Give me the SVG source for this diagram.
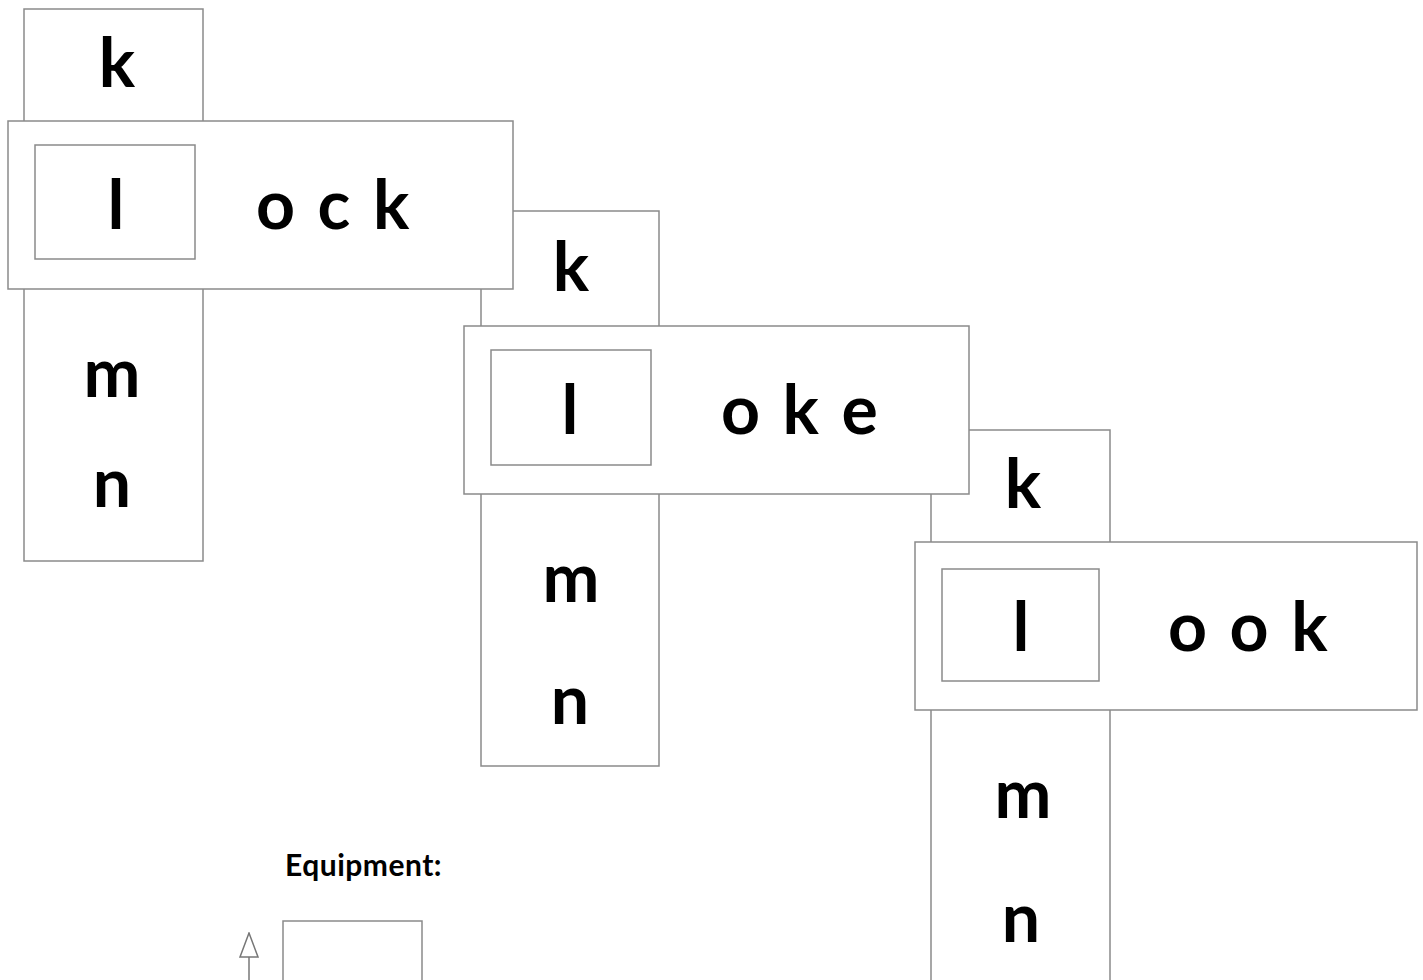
<svg xmlns="http://www.w3.org/2000/svg" width="1423" height="980" viewBox="0 0 1423 980">
<style>
.box{fill:#fff;stroke:#8a8a8a;stroke-width:1.5}
.big{font-family:Lato,"Liberation Sans",sans-serif;font-weight:bold;font-size:68px;fill:#000;text-anchor:middle}
.word{font-family:Lato,"Liberation Sans",sans-serif;font-weight:bold;font-size:68px;fill:#000;letter-spacing:3px}
.lbl{font-family:Lato,"Liberation Sans",sans-serif;font-weight:bold;font-size:30px;fill:#000;letter-spacing:0.5px}
.conn{fill:none;stroke:#777;stroke-width:1.5}
</style>
<defs>
<marker id="hollow" viewBox="0 0 26 20" refX="25" refY="10" markerWidth="26" markerHeight="20" markerUnits="userSpaceOnUse" orient="auto">
<path d="M1,1 L25,10 L1,19 Z" fill="#fff" stroke="#777" stroke-width="1.5"/>
</marker>
</defs>
<g id="col1">
<rect class="box" x="24" y="9" width="179" height="552"/>
<text class="big" x="117" y="87">k</text>
<text class="big" x="112" y="397">m</text>
<text class="big" x="112" y="507">n</text>
</g>
<g id="col2">
<rect class="box" x="481" y="211" width="178" height="555"/>
<text class="big" x="571" y="291">k</text>
<text class="big" x="571" y="602">m</text>
<text class="big" x="570" y="724">n</text>
</g>
<g id="col3">
<rect class="box" x="931" y="430" width="179" height="560"/>
<text class="big" x="1023" y="508">k</text>
<text class="big" x="1023" y="818">m</text>
<text class="big" x="1021" y="942">n</text>
</g>
<g id="row1">
<rect class="box" x="8" y="121" width="505" height="168"/>
<rect class="box" x="35" y="145" width="160" height="114"/>
<text class="big" x="116" y="229">l</text>
<text class="word" x="256" y="229" xml:space="preserve">o c k</text>
</g>
<g id="row2">
<rect class="box" x="464" y="326" width="505" height="168"/>
<rect class="box" x="491" y="350" width="160" height="115"/>
<text class="big" x="570" y="434">l</text>
<text class="word" x="721" y="434" xml:space="preserve">o k e</text>
</g>
<g id="row3">
<rect class="box" x="915" y="542" width="502" height="168"/>
<rect class="box" x="942" y="569" width="157" height="112"/>
<text class="big" x="1021" y="651">l</text>
<text class="word" x="1168" y="651" xml:space="preserve">o o k</text>
</g>
<g id="equipment">
<text class="lbl" x="285" y="876">Equipment:</text>
<rect class="box" x="283" y="921" width="139" height="80"/>
</g>
<g id="connectors">
<line class="conn" x1="249" y1="990" x2="249" y2="933" marker-end="url(#hollow)"/>
</g>
</svg>
